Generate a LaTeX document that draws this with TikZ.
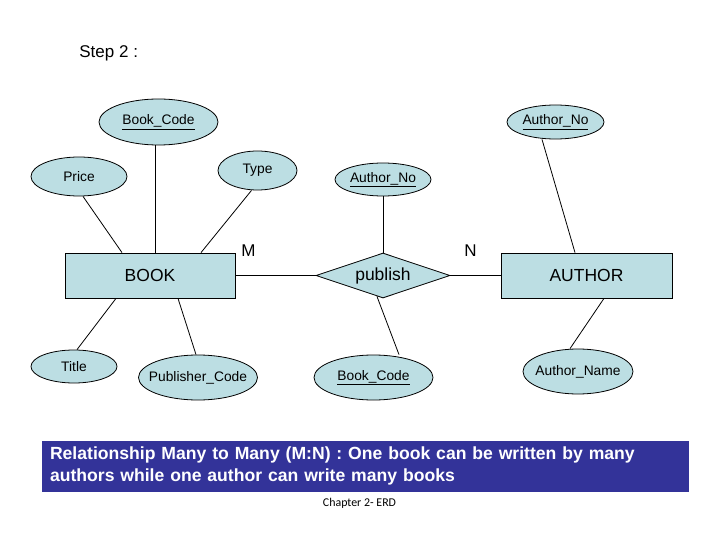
\documentclass[tikz,border=0pt]{standalone}
\usepackage{fontspec}
\setmainfont{Liberation Sans}
\newfontfamily\chapfont{Carlito}
\usepackage{xcolor}
\usetikzlibrary{shapes.geometric,calc}
\definecolor{erfill}{RGB}{188,222,227}
\definecolor{capblue}{RGB}{51,51,153}

\begin{document}
\begin{tikzpicture}[x=1pt, y=-1pt, line width=0.8pt,
    entity/.style={rectangle, draw, fill=erfill, minimum width=170pt, minimum height=45pt, inner sep=0pt, font=\fontsize{17.5}{21}\selectfont},
    attr/.style={ellipse, draw, fill=erfill, inner sep=-8pt, font=\fontsize{13.8}{16}\selectfont},
    rel/.style={diamond, draw, fill=erfill, aspect=2.98, minimum width=134pt, minimum height=45pt, inner sep=0pt, font=\fontsize{17.5}{21}\selectfont},
    card/.style={font=\fontsize{17}{20}\selectfont}
]
\useasboundingbox (0,0) rectangle (720,540);

\node[anchor=base west, inner sep=0pt, font=\fontsize{17}{20}\selectfont] (step) at (79,58) {Step 2 :};

% entities and relationship
\node[entity] (book) at (150,275.5) {BOOK};
\node[entity, minimum width=171pt] (author) at (586.5,275.5) {AUTHOR};
\node[rel] (publish) at (383,275.5) {publish};

% attributes
\node[attr, minimum width=119pt, minimum height=46pt] (bkcode) at (158.5,122) {\underline{Book\_Code}};
\node[attr, minimum width=96pt, minimum height=39pt] (price) at (79,176.5) {Price};
\node[attr, minimum width=79pt, minimum height=39pt] (type) at (257.5,170.5) {Type};
\node[attr, minimum width=86pt, minimum height=33pt] (title) at (74,366.5) {Title};
\node[attr, minimum width=119pt, minimum height=45pt] (pubcode) at (198,377.5) {Publisher\_Code};
\node[attr, minimum width=97pt, minimum height=34pt] (auno) at (555.5,122) {\underline{Author\_No}};
\node[attr, minimum width=96pt, minimum height=33pt] (pauno) at (383,179.5) {\underline{Author\_No}};
\node[attr, minimum width=119pt, minimum height=45pt] (pbkcode) at (373.5,377.5) {\underline{Book\_Code}};
\node[attr, minimum width=110pt, minimum height=45pt] (auname) at (578,371.5) {Author\_Name};

% connectors
\draw ([xshift=4pt]price.south) -- ([xshift=-28pt]book.north);
\draw ([xshift=-3.5pt]bkcode.south) -- ([xshift=5pt]book.north);
\draw ([xshift=-6pt]type.south) -- ([xshift=51pt]book.north);
\draw ([xshift=3pt]title.north) -- ([xshift=-34pt]book.south);
\draw ([xshift=-2pt]pubcode.north) -- ([xshift=28pt]book.south);
\draw (book.east) -- (publish.west);
\draw (publish.east) -- (author.west);
\draw (pauno.south) -- (publish.north);
\draw ([xshift=25.5pt]pbkcode.north) -- ($(publish.south)!0.09!(publish.west)$);
\draw ([xshift=-13.5pt]auno.south) -- ([xshift=-11.5pt]author.north);
\draw ([xshift=-8pt]auname.north) -- ([xshift=17.5pt]author.south);

% cardinalities
\node[card] (mcard) at (248.5,251) {M};
\node[card] (ncard) at (470.5,251) {N};

% caption
\node[fill=capblue, minimum width=647pt, minimum height=51pt, text width=631pt, inner xsep=8pt, inner ysep=0pt, align=left, text=white, font=\bfseries\fontsize{17.6}{21.3}\selectfont] (caption) at (365.5,466) {Relationship Many to Many (M:N) : One book can be written by many\\ authors while one author can write many books};
\node[anchor=base, inner sep=0pt, font=\chapfont\fontsize{11.9}{14}\selectfont] (chapter) at (359.5,506) {Chapter 2- ERD};

\end{tikzpicture}
\end{document}
